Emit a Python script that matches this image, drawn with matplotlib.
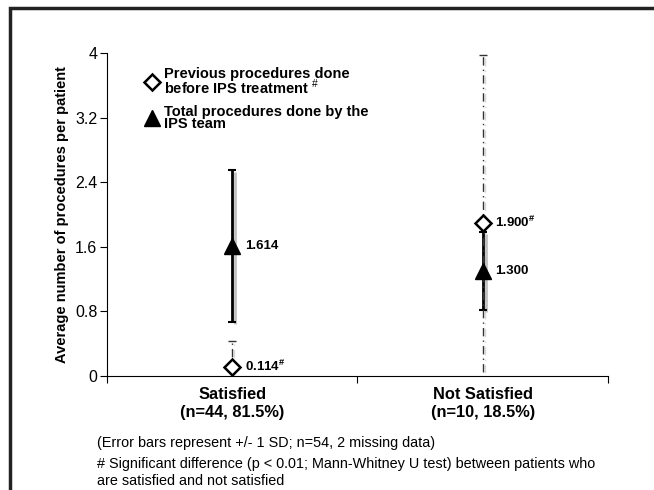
import numpy as np
import matplotlib
matplotlib.use("Agg")
import matplotlib.pyplot as plt
import matplotlib.patheffects as pe
from matplotlib.patches import Rectangle

plt.rcParams['font.family'] = ['Liberation Sans', 'DejaVu Sans']
plt.rcParams['mathtext.fontset'] = 'custom'
plt.rcParams['mathtext.rm'] = 'Liberation Sans'
plt.rcParams['mathtext.bf'] = 'Liberation Sans:bold'

# data
groups = ["Satisfied\n(n=44, 81.5%)", "Not Satisfied\n(n=10, 18.5%)"]
prev_mean = [0.114, 1.900]
prev_sd = [0.32, 2.07]
total_mean = [1.614, 1.300]
total_sd = [0.94, 0.48]
yticks = [0, 0.8, 1.6, 2.4, 3.2, 4]
ytick_labels = ["0", "0.8", "1.6", "2.4", "3.2", "4"]

fig = plt.figure(figsize=(6.54, 4.90), dpi=100)
ax = fig.add_axes([107/654, 1-376/490, 501/654, 323/490])

x = np.arange(1, len(groups)+1)
shadow = [pe.SimpleLineShadow(offset=(2, -1.5), shadow_color='0.6', alpha=0.6), pe.Normal()]

# total procedures (solid)
eb1 = ax.errorbar(x, total_mean, yerr=total_sd, fmt='none', ecolor='black',
                  elinewidth=2, capsize=3, capthick=1.5, zorder=2)
for ln in eb1.lines[2]:
    ln.set_path_effects(shadow)
# previous procedures (dash-dot)
eb2 = ax.errorbar(x, prev_mean, yerr=prev_sd, fmt='none', ecolor='#333333',
                  elinewidth=1, capsize=3, capthick=1, zorder=3)
eb2.lines[2][0].set_linestyle((0, (6, 3, 1, 3)))
eb2.lines[2][0].set_path_effects([pe.SimpleLineShadow(offset=(1.5, -1), shadow_color='0.7', alpha=0.5), pe.Normal()])

h2, = ax.plot(x, total_mean, linestyle='none', marker='^', markersize=11,
              color='black', zorder=5, label='Total procedures done by the\nIPS team')
h1, = ax.plot(x, prev_mean, linestyle='none', marker='D', markersize=8.5,
              markerfacecolor='white', markeredgecolor='black', markeredgewidth=1.8,
              zorder=6, label='Previous procedures done\nbefore IPS treatment $^{\\#}$')

for i in range(len(x)):
    ax.annotate("%.3f" % total_mean[i], (x[i], total_mean[i]), xytext=(9, 0),
                textcoords='offset points', va='center', ha='left',
                fontsize=9.5, fontweight='bold')
    ax.annotate("%.3f$^{\\mathbf{\\#}}$" % prev_mean[i], (x[i], prev_mean[i]), xytext=(9, 0),
                textcoords='offset points', va='center', ha='left',
                fontsize=9.5, fontweight='bold')

ax.set_xlim(0.5, 2.5)
ax.set_ylim(0, 4)
ax.set_yticks(yticks)
ax.set_yticklabels(ytick_labels, fontsize=11.5)
ax.set_xticks([0.5, 1.5, 2.5])
ax.set_xticklabels([])
ax.set_xticks(x, minor=True)
ax.set_xticklabels(groups, minor=True, fontsize=11.8, fontweight='bold')
ax.tick_params(axis='x', which='minor', length=0, pad=8)
ax.tick_params(axis='x', which='major', length=5, direction='out')
ax.tick_params(axis='y', length=5, direction='out', pad=2)
ax.spines['top'].set_visible(False)
ax.spines['right'].set_visible(False)
ax.set_ylabel("Average number of procedures per patient", fontsize=10.5, fontweight='bold', labelpad=4)

leg = ax.legend(handles=[h1, h2], loc='upper left', bbox_to_anchor=(0.069, 0.975),
                borderaxespad=0, frameon=False, handlelength=0.6, handletextpad=0.55,
                labelspacing=0.5, prop={'weight': 'bold', 'size': 10.5})
for t in leg.get_texts():
    t.set_linespacing(0.82)

fig.text(97/654, 1-443/490, "(Error bars represent +/- 1 SD; n=54, 2 missing data)",
         fontsize=10.4, va='center')
fig.text(97/654, 1-464/490, "# Significant difference (p < 0.01; Mann-Whitney U test) between patients who",
         fontsize=10.4, va='center')
fig.text(97/654, 1-481/490, "are satisfied and not satisfied", fontsize=10.4, va='center')

fig.add_artist(Rectangle((10/654, -0.5), 2, 1.5 - 8/490, transform=fig.transFigure,
                         fill=False, edgecolor='#222222', linewidth=2.5))

plt.savefig("out.png", dpi=100)
plt.close()
